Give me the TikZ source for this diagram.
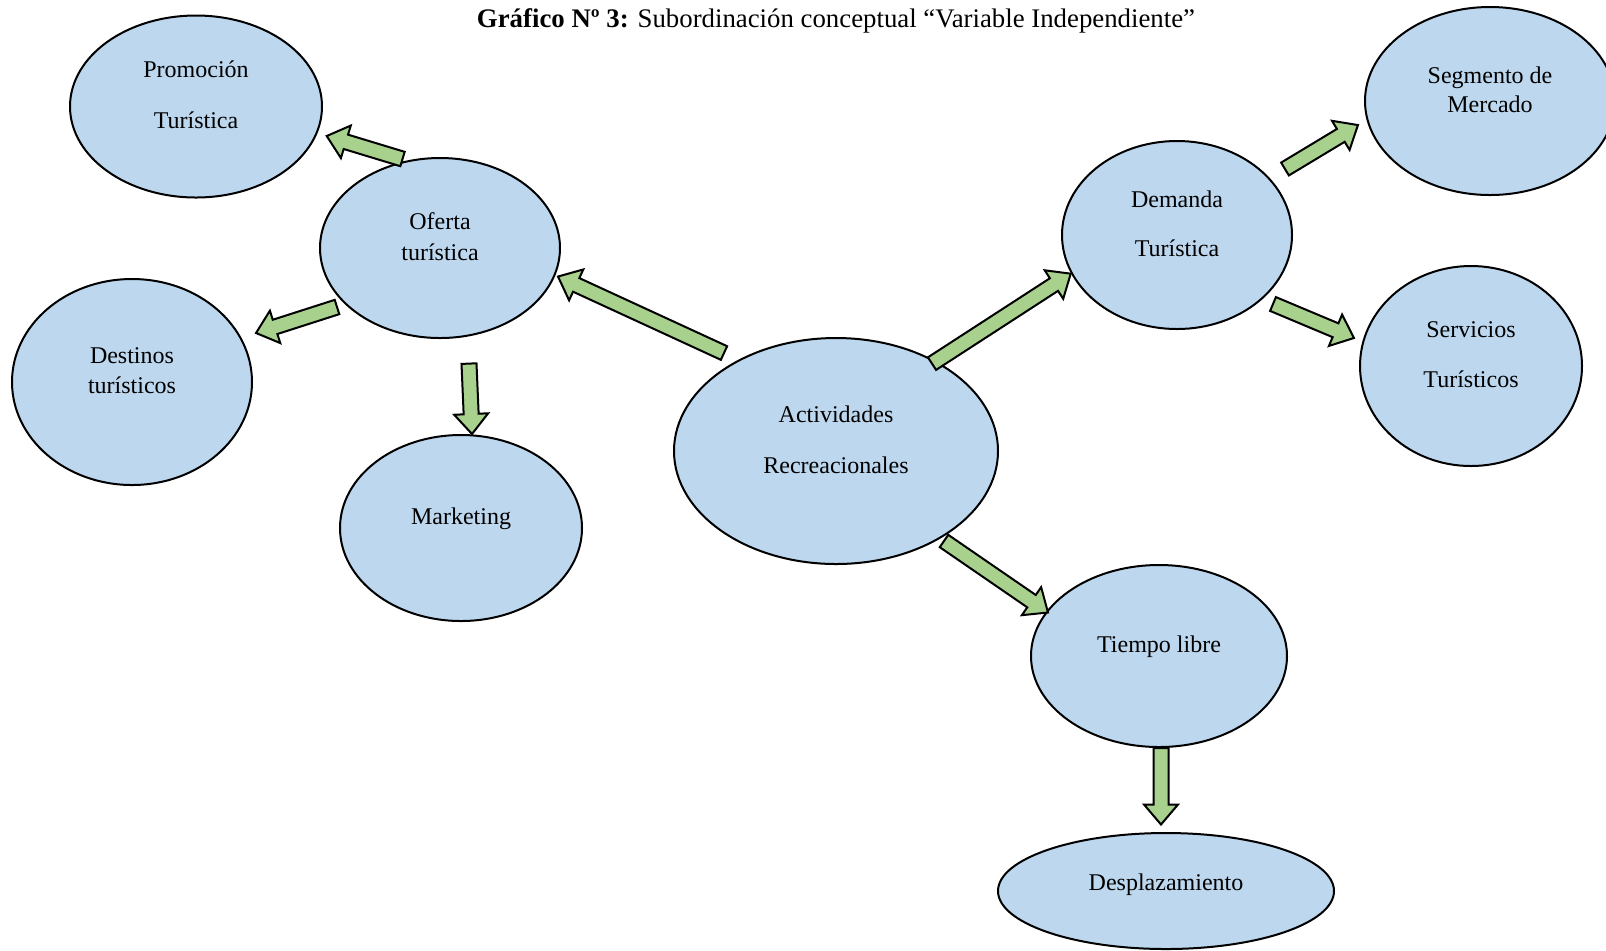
\documentclass[tikz,border=0pt]{standalone}
\usepackage{fontspec}
\setmainfont{Liberation Serif}
\usetikzlibrary{calc,shapes.geometric}
\definecolor{ellfill}{HTML}{BDD7EE}
\definecolor{arrfill}{HTML}{A9D18E}
\tikzset{
  ell/.style={ellipse, draw=black, line width=1pt, fill=ellfill, inner sep=0pt},
  txt/.style={anchor=base, font=\fontsize{12}{14}\selectfont, inner sep=0pt},
  barrow/.style={draw=black, line width=1pt, fill=arrfill, line join=miter}
}
\newcommand\ellnode[5]{\node[ell,minimum width=#4pt,minimum height=#5pt] (#1) at (#2,#3) {};}
\newcommand\blockarr[2]{%
  \draw[barrow] let \p1=($(#2)-(#1)$), \n1={atan2(\y1,\x1)}, \n2={veclen(\x1,\y1)} in
    [shift={(#1)}, rotate=\n1]
    (0pt,3.75pt) -- (\n2-10pt,3.75pt) -- (\n2-10pt,8.5pt) -- (\n2,0pt)
    -- (\n2-10pt,-8.5pt) -- (\n2-10pt,-3.75pt) -- (0pt,-3.75pt) -- cycle;}
\begin{document}
\begin{tikzpicture}[x=0.5pt,y=-0.5pt]
\useasboundingbox (0,0) rectangle (1606,950);
\node[txt, font=\fontsize{13.4}{15}\selectfont] (title) at (836,27) {\textbf{Gráfico Nº 3:} Subordinación conceptual “Variable Independiente”};
% ellipses
\ellnode{prom}{196}{106.5}{126}{91}
\ellnode{ofer}{440}{248}{120}{90}
\ellnode{dest}{132}{382}{120}{103}
\ellnode{mark}{461}{528}{121}{93}
\ellnode{acti}{836}{451}{162}{113}
\ellnode{dema}{1177}{235}{115}{94}
\ellnode{segm}{1490}{101}{125}{94}
\ellnode{serv}{1471}{366}{111}{100}
\ellnode{tiem}{1159}{656}{128}{91}
\ellnode{desp}{1166}{891}{168}{58}
% texts
\node[txt] (promA) at (196,77) {Promoción};
\node[txt] (promB) at (196,128) {Turística};
\node[txt] (oferA) at (440,229) {Oferta};
\node[txt] (oferB) at (440,260) {turística};
\node[txt] (destA) at (132,363) {Destinos};
\node[txt] (destB) at (132,393) {turísticos};
\node[txt] (markA) at (461,524) {Marketing};
\node[txt] (actiA) at (836,422) {Actividades};
\node[txt] (actiB) at (836,473) {Recreacionales};
\node[txt] (demaA) at (1177,207) {Demanda};
\node[txt] (demaB) at (1177,256) {Turística};
\node[txt] (segmA) at (1490,83) {Segmento de};
\node[txt] (segmB) at (1490,112) {Mercado};
\node[txt] (servA) at (1471,337) {Servicios};
\node[txt] (servB) at (1471,387) {Turísticos};
\node[txt] (tiemA) at (1159,652) {Tiempo libre};
\node[txt] (despA) at (1166,890) {Desplazamiento};
% arrow end points
\coordinate (a1s) at (402.5,159); \coordinate (a1e) at (326.7,136);
\coordinate (a2s) at (337,307);   \coordinate (a2e) at (256,333);
\coordinate (a3s) at (469,363.6); \coordinate (a3e) at (472,434);
\coordinate (a4s) at (724,353);   \coordinate (a4e) at (558,276.5);
\coordinate (a5s) at (932,363.6); \coordinate (a5e) at (1071,273.5);
\coordinate (a6s) at (944,541);   \coordinate (a6e) at (1048,612.5);
\coordinate (a7s) at (1285,169);  \coordinate (a7e) at (1358,125);
\coordinate (a8s) at (1273,304);  \coordinate (a8e) at (1354,338);
\coordinate (a9s) at (1161,748);  \coordinate (a9e) at (1161,824.5);
\blockarr{a1s}{a1e}
\blockarr{a2s}{a2e}
\blockarr{a3s}{a3e}
\blockarr{a4s}{a4e}
\blockarr{a5s}{a5e}
\blockarr{a6s}{a6e}
\blockarr{a7s}{a7e}
\blockarr{a8s}{a8e}
\blockarr{a9s}{a9e}
\end{tikzpicture}
\end{document}
